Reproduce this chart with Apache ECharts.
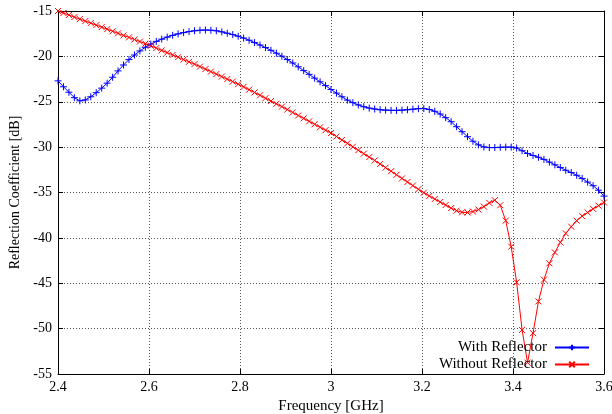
<!DOCTYPE html>
<html>
<head>
<meta charset="utf-8">
<script src="https://cdn.jsdelivr.net/npm/echarts@6/dist/echarts.min.js"></script>
<style>
html,body{margin:0;padding:0;background:#fff;}
#chart{width:612px;height:414px;}
</style>
</head>
<body>
<div id="chart"></div>
<script>
const frequency = [
2.400,2.412,2.424,2.436,2.448,2.460,2.472,2.484,2.496,2.508,
2.520,2.532,2.544,2.556,2.568,2.580,2.592,2.604,2.616,2.628,
2.640,2.652,2.664,2.676,2.688,2.700,2.712,2.724,2.736,2.748,
2.760,2.772,2.784,2.796,2.808,2.820,2.832,2.844,2.856,2.868,
2.880,2.892,2.904,2.916,2.928,2.940,2.952,2.964,2.976,2.988,
3.000,3.012,3.024,3.036,3.048,3.060,3.072,3.084,3.096,3.108,
3.120,3.132,3.144,3.156,3.168,3.180,3.192,3.204,3.216,3.228,
3.240,3.252,3.264,3.276,3.288,3.300,3.312,3.324,3.336,3.348,
3.360,3.372,3.384,3.396,3.408,3.420,3.432,3.444,3.456,3.468,
3.480,3.492,3.504,3.516,3.528,3.540,3.552,3.564,3.576,3.588,
3.600];

const withReflector = [
-22.70,-23.35,-23.95,-24.55,-24.90,-24.80,-24.45,-24.00,-23.50,-22.95,
-22.30,-21.60,-20.95,-20.35,-19.85,-19.40,-19.00,-18.65,-18.35,-18.10,
-17.88,-17.68,-17.52,-17.38,-17.27,-17.18,-17.12,-17.10,-17.12,-17.18,
-17.30,-17.45,-17.60,-17.78,-17.98,-18.22,-18.48,-18.75,-19.03,-19.33,
-19.65,-19.98,-20.35,-20.73,-21.15,-21.57,-21.98,-22.40,-22.80,-23.22,
-23.65,-24.05,-24.45,-24.82,-25.10,-25.35,-25.55,-25.70,-25.80,-25.88,
-25.92,-25.95,-25.95,-25.92,-25.88,-25.82,-25.76,-25.75,-25.85,-26.05,
-26.35,-26.75,-27.20,-27.75,-28.30,-28.85,-29.35,-29.75,-29.98,-30.05,
-30.05,-30.02,-30.00,-30.00,-30.10,-30.40,-30.70,-30.92,-31.12,-31.35,
-31.65,-31.95,-32.25,-32.55,-32.80,-33.10,-33.45,-33.85,-34.25,-34.75,
-35.40];

const withoutReflector = [
-15.00,-15.22,-15.44,-15.67,-15.89,-16.11,-16.33,-16.56,-16.78,-17.00,
-17.23,-17.46,-17.69,-17.91,-18.14,-18.37,-18.60,-18.83,-19.09,-19.34,
-19.59,-19.84,-20.09,-20.35,-20.60,-20.85,-21.13,-21.40,-21.68,-21.95,
-22.23,-22.50,-22.78,-23.06,-23.36,-23.67,-23.98,-24.29,-24.61,-24.92,
-25.23,-25.54,-25.86,-26.18,-26.51,-26.83,-27.16,-27.48,-27.81,-28.13,
-28.45,-28.83,-29.21,-29.58,-29.96,-30.34,-30.72,-31.10,-31.47,-31.86,
-32.26,-32.65,-33.05,-33.45,-33.84,-34.24,-34.64,-35.02,-35.38,-35.72,
-36.05,-36.38,-36.72,-37.00,-37.18,-37.20,-37.10,-36.88,-36.55,-36.15,
-35.85,-36.40,-38.10,-40.97,-44.90,-50.15,-53.75,-50.50,-47.00,-44.60,
-42.80,-41.60,-40.50,-39.50,-38.77,-38.10,-37.60,-37.20,-36.80,-36.45,
-36.10];

const seriesNames = ['With Reflector', 'Without Reflector'];
const xLabel = 'Frequency [GHz]';
const yLabel = 'Reflection Coefficient [dB]';

const FONT = 'Liberation Serif';
const chart = echarts.init(document.getElementById('chart'), null, {renderer: 'canvas'});

const plusSym = 'path://M0,4L8,4M4,0L4,8';
const crossSym = 'path://M0,0L8,8M0,8L8,0';

function pairs(ys){ return frequency.map((f,i)=>[f, ys[i]]); }

const gridLine = {show:true, lineStyle:{color:'#555', type:[1,2], width:1}};

chart.setOption({
  animation: false,
  backgroundColor: '#fff',
  textStyle: {fontFamily: FONT},
  grid: {left: 58, right: 8, top: 11, bottom: 40, containLabel: false, outerBoundsMode: 'none'},
  xAxis: [{
    type: 'value', min: 2.4, max: 3.6, interval: 0.2,
    name: xLabel, nameLocation: 'middle', nameGap: 24,
    nameTextStyle: {fontFamily: FONT, fontSize: 15, color: '#000'},
    axisLine: {show: true, onZero: false, lineStyle: {color: '#000', width: 1}},
    axisTick: {show: true, inside: true, length: 5, lineStyle: {color: '#000'}},
    axisLabel: {fontFamily: FONT, fontSize: 14, color: '#000', margin: 6,
      formatter: v => (Math.abs(v - 3) < 1e-9 ? '3' : v.toFixed(1))},
    splitLine: gridLine
  }, {
    type: 'value', min: 2.4, max: 3.6, interval: 0.2, position: 'top',
    axisLine: {show: true, onZero: false, lineStyle: {color: '#000', width: 1}},
    axisTick: {show: true, inside: true, length: 5, lineStyle: {color: '#000'}},
    axisLabel: {show: false}, splitLine: {show: false}
  }],
  yAxis: [{
    type: 'value', min: -55, max: -15, interval: 5,
    name: yLabel, nameLocation: 'middle', nameGap: 23, nameRotate: 90,
    nameTextStyle: {fontFamily: FONT, fontSize: 14, color: '#000'},
    axisLine: {show: true, onZero: false, lineStyle: {color: '#000', width: 1}},
    axisTick: {show: true, inside: true, length: 5, lineStyle: {color: '#000'}},
    axisLabel: {fontFamily: FONT, fontSize: 14, color: '#000', margin: 6},
    splitLine: gridLine
  }, {
    type: 'value', min: -55, max: -15, interval: 5, position: 'right',
    axisLine: {show: true, onZero: false, lineStyle: {color: '#000', width: 1}},
    axisTick: {show: true, inside: true, length: 5, lineStyle: {color: '#000'}},
    axisLabel: {show: false}, splitLine: {show: false}
  }],
  legend: [{
    data: [seriesNames[0]], orient: 'vertical', right: 17, top: 335,
    align: 'right', itemWidth: 34, itemHeight: 7, itemGap: 4,
    textStyle: {fontFamily: FONT, fontSize: 15, color: '#000', padding: [0, 3, 0, 0]},
    backgroundColor: 'transparent'
  }, {
    data: [seriesNames[1]], orient: 'vertical', right: 17, top: 352,
    align: 'right', itemWidth: 34, itemHeight: 7, itemGap: 4,
    textStyle: {fontFamily: FONT, fontSize: 15, color: '#000', padding: [0, 3, 0, 0]},
    backgroundColor: 'transparent'
  }],
  series: [{
    name: seriesNames[0], type: 'line', data: pairs(withReflector),
    xAxisIndex: 0, yAxisIndex: 0,
    showSymbol: true, showAllSymbol: true,
    symbol: plusSym, symbolSize: 7,
    lineStyle: {color: '#0000ff', width: 1},
    itemStyle: {color: '#0000ff', borderColor: '#0000ff', borderWidth: 1},
    emphasis: {disabled: true}
  }, {
    name: seriesNames[1], type: 'line', data: pairs(withoutReflector),
    xAxisIndex: 0, yAxisIndex: 0,
    showSymbol: true, showAllSymbol: true,
    symbol: crossSym, symbolSize: 6,
    lineStyle: {color: '#ff0000', width: 1},
    itemStyle: {color: '#ff0000', borderColor: '#ff0000', borderWidth: 1},
    emphasis: {disabled: true}
  }]
});
</script>
</body>
</html>
